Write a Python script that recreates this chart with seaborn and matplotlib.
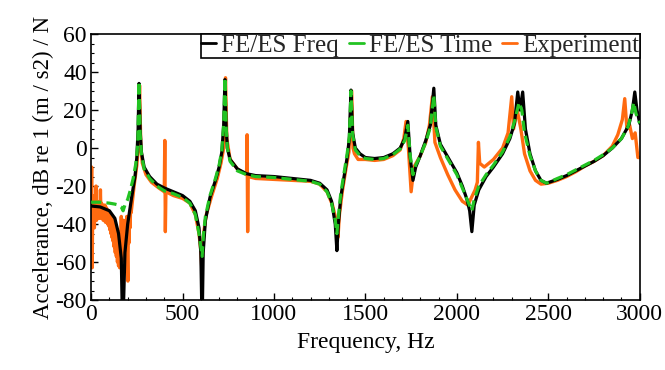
import numpy as np
import pandas as pd
import matplotlib
matplotlib.use("Agg")
import matplotlib.pyplot as plt
import seaborn as sns
from matplotlib.ticker import MultipleLocator

# ---- data ----
freq_fe = [0, 50, 100, 130, 150, 165, 172, 178, 185, 200, 220, 240, 250, 257, 262, 268, 275, 290, 320, 360,
           400, 450, 500, 540, 570, 590, 600, 607, 613, 625, 650, 680, 700, 715, 725, 732, 738, 745, 760, 800,
           850, 900, 1000, 1100, 1200, 1250, 1290, 1315, 1335, 1344, 1352, 1365, 1385, 1400, 1412, 1421, 1430,
           1445, 1470, 1500, 1550, 1600, 1650, 1690, 1715, 1732, 1745, 1760, 1775, 1800, 1830, 1855, 1874, 1885,
           1910, 1940, 1970, 2000, 2030, 2055, 2070, 2082, 2095, 2120, 2160, 2200, 2250, 2290, 2315, 2333, 2345,
           2360, 2375, 2400, 2430, 2460, 2490, 2550, 2600, 2650, 2700, 2750, 2800, 2850, 2900, 2940, 2960, 2973,
           2985, 3000]
db_fe = [-30.5, -31, -33, -37, -45, -58, -95, -80, -55, -40, -27, -15, -5, 10, 34, 10, -2, -10, -15, -19,
         -21, -23, -25, -28, -33, -42, -55, -95, -55, -38, -26, -17, -10, -2, 12, 36, 12, 0, -6, -11,
         -13.5, -14.5, -15, -16, -17, -18.5, -22, -28, -40, -54, -40, -26, -14, -5, 5, 30.5, 8,
         0, -3, -5, -5.5, -5, -3, 0, 5, 14, -5, -17, -10, -4, 4, 12, 31.5, 12,
         2, -3, -8, -13, -20, -27, -33, -44, -30, -22, -15, -10, -3, 5, 13, 29.5, 20,
         29.5, 10, -3, -12, -17, -18.5, -16.5, -14.5, -12, -9.5, -7, -4, 0, 5, 12, 20, 29.5,
         20, 13]

freq_time = [0, 50, 100, 130, 150, 165, 175, 185, 200, 215, 230, 245, 255, 262, 268, 275, 290, 320, 360,
             400, 450, 500, 540, 570, 590, 600, 607, 615, 625, 650, 680, 700, 715, 725, 732, 738, 745, 760, 800,
             850, 900, 1000, 1100, 1200, 1250, 1290, 1315, 1335, 1344, 1352, 1365, 1385, 1400, 1412, 1421, 1430,
             1445, 1470, 1500, 1550, 1600, 1650, 1690, 1715, 1732, 1745, 1760, 1775, 1800, 1830, 1855, 1874, 1885,
             1910, 1940, 1970, 2000, 2030, 2060, 2082, 2095, 2120, 2160, 2200, 2250, 2290, 2315, 2340, 2355, 2370,
             2400, 2430, 2460, 2490, 2550, 2600, 2650, 2700, 2750, 2800, 2850, 2900, 2935, 2955, 2967, 2980, 3000]
db_time = [-28.5, -28.5, -29, -29.5, -30, -31, -33, -30, -27, -22, -16, -8, 2, 35, 8, -3, -11, -16, -20,
           -22.5, -24, -26, -29, -35, -45, -52, -57, -45, -36, -25, -16, -9, -1, 13, 37, 12, 0, -7, -12,
           -14, -15, -15.5, -16.5, -17.5, -19, -23, -29, -38, -45, -36, -24, -12, -3, 6, 30, 7,
           -1, -4, -5.5, -6, -5.5, -3.5, -0.5, 4, 12, -4, -14, -9, -4, 3, 11, 28, 11,
           1, -4, -9, -14, -21, -28, -33, -27, -20, -14, -9, -2, 6, 14, 24, 20, 8,
           -4, -12, -17, -18.5, -16, -14, -11.5, -9, -6.5, -3.5, 0, 5, 11, 18, 24, 18, 13]

freq_exp = [0, 3, 6, 9, 12, 15, 18, 21, 24, 27, 30, 33, 36, 39, 42, 45, 48, 51, 54, 57, 60, 63, 66, 69, 72,
            75, 78, 81, 84, 87, 90, 93, 96, 99, 102, 105, 108, 111, 114, 117, 120, 123, 126, 129, 132, 135,
            138, 141, 144, 147, 150, 153, 156, 159, 162, 165, 168, 171, 174, 177, 180, 183, 186, 189, 192,
            195, 198, 201, 204, 207, 210, 213, 216, 219, 235, 250, 258, 265, 272, 280, 300,
            330, 370, 400, 403, 406, 409, 450, 500, 540, 570, 590, 600, 605, 610, 615, 630, 660, 690, 710,
            725, 735, 742, 760, 800, 850, 853, 856, 859, 900, 1000, 1100, 1200, 1250, 1290, 1320, 1340,
            1350, 1358, 1375, 1395, 1410, 1425, 1432, 1440, 1460, 1500, 1550, 1600, 1650, 1690, 1710, 1722,
            1735, 1750, 1765, 1800, 1830, 1850, 1866, 1880, 1910, 1950, 1990, 2030, 2060, 2075, 2100, 2112,
            2118, 2125, 2150, 2200, 2250, 2280, 2300, 2310, 2330, 2340, 2350, 2370, 2400, 2430, 2460, 2500,
            2550, 2600, 2650, 2700, 2750, 2800, 2850, 2880, 2905, 2918, 2930, 2945, 2960, 2975, 2990, 3000]
db_exp = [-35, -10, -63, -28, -40, -25, -42, -27, -36, -20, -38, -28, -35, -29, -37, -30, -36, -22, -37, -29,
          -36, -30, -38, -31, -37, -30, -39, -31, -38, -32, -40, -33, -41, -34, -43, -35, -45, -36, -47, -37,
          -49, -38, -52, -40, -55, -41, -57, -43, -60, -44, -62, -46, -63, -44, -58, -36, -60, -40, -55, -38,
          -52, -40, -48, -38, -45, -36, -55, -70, -40, -50, -35, -42, -32, -34, -20, -9, 0, 33, 0, -8, -14,
          -18, -21, -23, 4, -44, -23, -25, -26.5, -29, -35, -45, -54, -63, -55, -45, -35, -25, -16, -8,
          0, 37, 5, -6, -11, -14, 7, -44, -15, -16, -16.5, -17, -17.5, -19, -23, -30, -38,
          -47, -35, -22, -10, -2, 30, 0, -3, -6, -6, -6.5, -6, -4, -1, 5, 14,
          0, -23, -10, -4, 3, 12, 27, 3, -5, -14, -22, -28, -30, -27, -22, -18,
          3, -8, -10, -6, 0, 8, 27, 10, 20, 15, 10, -3, -12, -17, -19, -18.5,
          -17, -15, -12.5, -9.5, -7, -4, 1, 7, 15, 26, 10, 12, 5, 8, -5, -5]

labels = ["FE/ES Freq", "FE/ES Time", "Experiment"]

df_fe = pd.DataFrame({"f": freq_fe, "db": db_fe})
df_time = pd.DataFrame({"f": freq_time, "db": db_time})
df_exp = pd.DataFrame({"f": freq_exp, "db": db_exp})

sns.set_theme(style="white")
plt.rcParams["font.family"] = ["Liberation Serif", "DejaVu Serif"]
plt.rcParams["axes.unicode_minus"] = False

fig = plt.figure(figsize=(6.65, 3.70), dpi=100)
ax = fig.add_axes([0.137, 0.189, 0.825, 0.719])

sns.lineplot(data=df_exp, x="f", y="db", ax=ax, color="#ff6a10", lw=2.4, label=labels[2], zorder=2)
sns.lineplot(data=df_fe, x="f", y="db", ax=ax, color="black", lw=2.3, label=labels[0], zorder=3)
sns.lineplot(data=df_time, x="f", y="db", ax=ax, color="#22c322", lw=2.3, label=labels[1], zorder=4)
ax.lines[-1].set_linestyle((0, (3.2, 1.6)))

ax.set_xlim(0, 3000)
ax.set_ylim(-80, 60)
ax.xaxis.set_major_locator(MultipleLocator(500))
ax.xaxis.set_minor_locator(MultipleLocator(100))
ax.yaxis.set_major_locator(MultipleLocator(20))
ax.yaxis.set_minor_locator(MultipleLocator(5))
ax.tick_params(which="both", direction="in", bottom=True, left=True, top=False, right=False,
               labelsize=17, colors="black")
ax.tick_params(which="major", length=5, width=1, pad=3)
ax.tick_params(which="minor", length=2.5, width=0.8)
for s in ax.spines.values():
    s.set_color("black")
    s.set_linewidth(1.2)

ax.set_xlabel("Frequency, Hz", fontsize=17, color="black", labelpad=5)
ax.set_ylabel("Accelerance, dB re 1 (m / s2) / N", fontsize=16.5, color="black", labelpad=1)

h, l = ax.get_legend_handles_labels()
order = [l.index(x) for x in labels]
leg = ax.legend([h[i] for i in order], [l[i] for i in order], loc="upper right", ncol=3,
                fontsize=18, frameon=True, fancybox=False, edgecolor="black", framealpha=1,
                handlelength=0.6, handletextpad=0.2, columnspacing=0.4, borderpad=0.02,
                borderaxespad=0.0)
leg.get_frame().set_linewidth(1.2)
for lh in leg.get_lines():
    lh.set_linestyle("-")
    lh.set_linewidth(2)

fig.savefig("out.png", dpi=100)
